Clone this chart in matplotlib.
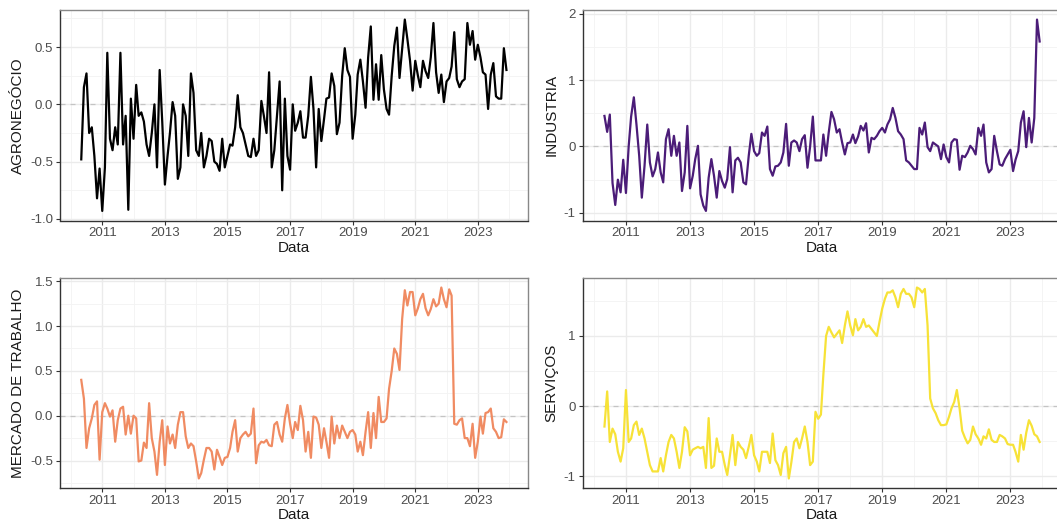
import numpy as np
import pandas as pd
import matplotlib
matplotlib.use("Agg")
from matplotlib import pyplot as plt

plt.rcParams['font.family'] = ['Liberation Sans', 'DejaVu Sans']

# monthly dates, May 2010 .. Dec 2023
datas = pd.date_range('2010-05-01', '2023-12-01', freq='MS')

agro = [
    # 2010 (mai-dez)
    -0.48, 0.15, 0.27, -0.25, -0.2, -0.45, -0.82, -0.56,
    # 2011
    -0.93, -0.55, 0.45, -0.3, -0.4, -0.2, -0.35, 0.45, -0.35, -0.1, -0.92, 0.05,
    # 2012
    -0.3, 0.17, -0.1, -0.07, -0.15, -0.35, -0.45, -0.25, 0.0, -0.55, 0.3, -0.15,
    # 2013
    -0.7, -0.45, -0.25, 0.02, -0.1, -0.65, -0.55, 0.0, -0.1, -0.45, 0.27, 0.1,
    # 2014
    -0.4, -0.45, -0.25, -0.55, -0.45, -0.3, -0.32, -0.5, -0.52, -0.58, -0.3, -0.55,
    # 2015
    -0.45, -0.35, -0.36, -0.2, 0.08, -0.2, -0.25, -0.35, -0.45, -0.46, -0.3, -0.45,
    # 2016
    -0.4, 0.03, -0.1, -0.25, 0.28, -0.55, -0.4, -0.1, 0.2, -0.75, 0.05, -0.45,
    # 2017
    -0.57, 0.0, -0.23, -0.16, -0.06, -0.29, -0.29, -0.1, 0.24, -0.04, -0.55, -0.04,
    # 2018
    -0.32, -0.13, 0.05, 0.06, 0.27, 0.16, -0.26, -0.16, 0.25, 0.49, 0.3, 0.24,
    # 2019
    -0.3, -0.09, 0.26, 0.39, 0.2, -0.03, 0.41, 0.68, 0.04, 0.35, 0.04, 0.43,
    # 2020
    0.13, -0.04, -0.09, 0.25, 0.51, 0.67, 0.23, 0.48, 0.74, 0.57, 0.38, 0.12,
    # 2021
    0.38, 0.25, 0.15, 0.38, 0.29, 0.23, 0.41, 0.71, 0.28, 0.1, 0.26, 0.02,
    # 2022
    0.2, 0.23, 0.33, 0.63, 0.22, 0.15, 0.2, 0.22, 0.71, 0.52, 0.64, 0.39,
    # 2023
    0.52, 0.41, 0.28, 0.26, -0.04, 0.26, 0.36, 0.07, 0.05, 0.05, 0.49, 0.3,
]

industria = [
    0.46, 0.22, 0.48, -0.55, -0.88, -0.5, -0.69, -0.2,
    -0.7, 0.0, 0.45, 0.74, 0.33, -0.14, -0.77, -0.29, 0.33, -0.24, -0.45, -0.34,
    -0.09, -0.39, -0.54, 0.11, 0.26, -0.14, 0.16, -0.14, 0.06, -0.67, -0.39, 0.31,
    -0.63, -0.44, -0.19, 0.01, -0.72, -0.89, -0.97, -0.47, -0.19, -0.44, -0.77, -0.37,
    -0.52, -0.62, -0.49, -0.01, -0.69, -0.21, -0.17, -0.24, -0.54, -0.57, -0.14, 0.19,
    -0.07, -0.14, -0.1, 0.21, 0.16, 0.3, -0.34, -0.44, -0.3, -0.29, -0.24, -0.09,
    0.34, -0.29, 0.06, 0.09, 0.06, -0.07, 0.11, 0.17, -0.32, 0.0, 0.45, -0.21,
    -0.21, -0.21, 0.18, -0.14, 0.21, 0.52, 0.41, 0.21, 0.26, 0.06, -0.12, 0.05,
    0.06, 0.18, 0.05, 0.15, 0.31, 0.24, 0.35, -0.09, 0.13, 0.11, 0.16, 0.23,
    0.28, 0.21, 0.33, 0.41, 0.58, 0.43, 0.23, 0.18, 0.11, -0.21, -0.24, -0.29,
    -0.34, -0.34, 0.28, 0.18, 0.36, -0.01, -0.07, 0.06, 0.03, 0.0, -0.19, 0.03,
    -0.16, -0.24, 0.06, 0.11, 0.1, -0.35, -0.14, -0.16, -0.09, 0.01, -0.04, -0.12,
    0.28, 0.16, 0.33, -0.24, -0.39, -0.34, 0.16, -0.07, -0.27, -0.29, -0.19, -0.12,
    -0.05, -0.37, -0.2, -0.07, 0.36, 0.53, -0.01, 0.43, 0.06, 0.43, 1.91, 1.58,
]

mercado = [
    0.4, 0.19, -0.36, -0.14, -0.03, 0.12, 0.16, -0.49,
    0.04, 0.14, 0.08, -0.01, 0.06, -0.29, -0.05, 0.08, 0.1, -0.21, 0.0, -0.2,
    0.0, -0.03, -0.51, -0.5, -0.3, -0.36, 0.14, -0.25, -0.4, -0.66, -0.29, -0.05,
    -0.55, -0.12, -0.31, -0.21, -0.36, -0.1, 0.04, 0.04, -0.23, -0.36, -0.31, -0.34,
    -0.51, -0.7, -0.64, -0.49, -0.36, -0.36, -0.4, -0.6, -0.38, -0.46, -0.55, -0.47,
    -0.46, -0.36, -0.18, -0.05, -0.4, -0.25, -0.21, -0.18, -0.23, -0.2, 0.08, -0.53,
    -0.33, -0.29, -0.3, -0.27, -0.33, -0.34, -0.1, -0.07, -0.21, -0.29, -0.03, 0.12,
    -0.09, -0.25, -0.07, -0.16, 0.11, -0.05, -0.4, -0.18, -0.47, -0.01, -0.02, -0.1,
    -0.36, -0.14, -0.29, -0.47, -0.01, -0.31, -0.11, -0.25, -0.11, -0.18, -0.25, -0.18,
    -0.16, -0.21, -0.4, -0.29, -0.44, -0.18, 0.04, -0.36, 0.03, -0.25, 0.21, -0.07,
    -0.07, -0.03, 0.3, 0.5, 0.75, 0.69, 0.51, 1.08, 1.4, 1.23, 1.38, 1.38,
    1.12, 1.2, 1.3, 1.36, 1.2, 1.12, 1.19, 1.3, 1.22, 1.25, 1.43, 1.3,
    1.21, 1.41, 1.34, -0.09, -0.1, -0.05, -0.03, -0.25, -0.25, -0.34, -0.09, -0.47,
    -0.29, -0.01, -0.2, 0.03, 0.04, 0.08, -0.14, -0.18, -0.25, -0.24, -0.04, -0.07,
]

servicos = [
    -0.29, 0.21, -0.51, -0.32, -0.4, -0.65, -0.79, -0.6,
    0.23, -0.51, -0.46, -0.27, -0.22, -0.41, -0.32, -0.46, -0.65, -0.84, -0.93, -0.93,
    -0.93, -0.74, -0.93, -0.7, -0.51, -0.41, -0.46, -0.65, -0.88, -0.65, -0.3, -0.36,
    -0.7, -0.62, -0.6, -0.58, -0.6, -0.58, -0.88, -0.17, -0.88, -0.85, -0.46, -0.65,
    -0.65, -0.84, -0.98, -0.7, -0.41, -0.84, -0.51, -0.58, -0.62, -0.74, -0.58, -0.41,
    -0.7, -0.79, -0.93, -0.65, -0.65, -0.65, -0.81, -0.39, -0.77, -0.84, -0.98, -0.67,
    -0.58, -1.03, -0.8, -0.51, -0.46, -0.6, -0.46, -0.29, -0.51, -0.84, -0.79, -0.08,
    -0.18, -0.12, 0.45, 1.0, 1.13, 1.05, 0.98, 1.03, 1.08, 0.9, 1.15, 1.35,
    1.15, 1.01, 1.24, 1.08, 1.13, 1.24, 1.13, 1.15, 1.1, 1.05, 1.0, 1.2,
    1.39, 1.53, 1.62, 1.62, 1.65, 1.55, 1.41, 1.6, 1.67, 1.6, 1.6, 1.55,
    1.41, 1.69, 1.67, 1.62, 1.67, 1.15, 0.11, -0.03, -0.1, -0.2, -0.27, -0.27,
    -0.26, -0.15, -0.03, 0.06, 0.23, -0.03, -0.35, -0.45, -0.53, -0.48, -0.29, -0.4,
    -0.46, -0.55, -0.43, -0.46, -0.33, -0.48, -0.51, -0.51, -0.41, -0.43, -0.46, -0.54,
    -0.55, -0.55, -0.65, -0.79, -0.41, -0.62, -0.38, -0.2, -0.28, -0.4, -0.43, -0.51,
]

series = [
    ('AGRONEGÓCIO', agro, '#000000', [-1.0, -0.5, 0.0, 0.5], ['-1.0', '-0.5', '0.0', '0.5']),
    ('INDUSTRIA', industria, '#4b1c78', [-1, 0, 1, 2], ['-1', '0', '1', '2']),
    ('MERCADO DE TRABALHO', mercado, '#f08b62', [-0.5, 0.0, 0.5, 1.0, 1.5],
     ['-0.5', '0.0', '0.5', '1.0', '1.5']),
    ('SERVIÇOS', servicos, '#f7e237', [-1, 0, 1], ['-1', '0', '1']),
]

anos_major = [2011, 2013, 2015, 2017, 2019, 2021, 2023]
anos_minor = [2010, 2012, 2014, 2016, 2018, 2020, 2022, 2024]

W, H = 1057, 529
fig = plt.figure(figsize=(W / 100, H / 100), dpi=100)

# panel boxes in pixels: left, top, right, bottom
boxes = [
    (60, 10, 527.7, 220.5),
    (582.7, 10, 1061.4, 220.5),
    (60, 278, 527.7, 488),
    (582.7, 278, 1061.4, 488),
]

for (nome, vals, cor, yt, ytl), (l, t, r, b) in zip(series, boxes):
    ax = fig.add_axes([l / W, 1 - b / H, (r - l) / W, (b - t) / H])
    vals = np.array(vals)
    ax.axhline(0, color='#c4c4c4', lw=0.9, ls=(0, (4, 4)), zorder=1)
    ax.plot(datas, vals, color=cor, lw=1.6, zorder=3)

    ax.set_xticks([pd.Timestamp(f'{a}-01-01') for a in anos_major])
    ax.set_xticklabels([str(a) for a in anos_major])
    ax.set_xticks([pd.Timestamp(f'{a}-01-01') for a in anos_minor], minor=True)
    ax.set_yticks(yt)
    ax.set_yticklabels(ytl)
    ystep = yt[1] - yt[0]
    ax.set_yticks([v + ystep / 2 for v in [yt[0] - ystep] + yt], minor=True)

    # ggplot-like 5% expansion (set after ticks so they don't widen it)
    ymin, ymax = vals.min(), vals.max()
    dy = (ymax - ymin) * 0.05
    ax.set_ylim(ymin - dy, ymax + dy)
    x0, x1 = datas[0], datas[-1]
    dx = (x1 - x0) * 0.05
    ax.set_xlim(x0 - dx, x1 + dx)

    ax.grid(True, which='major', color='#ebebeb', lw=1.0, zorder=0)
    ax.grid(True, which='minor', color='#f3f3f3', lw=0.6, zorder=0)
    ax.set_axisbelow(True)

    ax.tick_params(axis='both', which='major', length=3, width=0.8,
                   color='#333333', labelcolor='#4d4d4d', labelsize=9.5, pad=2)
    ax.tick_params(axis='both', which='minor', length=0)

    for s in ['left', 'bottom']:
        ax.spines[s].set_color('#333333')
        ax.spines[s].set_linewidth(1.0)
    for s in ['top', 'right']:
        ax.spines[s].set_color('#888888')
        ax.spines[s].set_linewidth(1.0)

    ax.set_xlabel('Data', fontsize=11, color='#1a1a1a', labelpad=1)
    ax.set_ylabel(nome, fontsize=11, color='#1a1a1a', labelpad=4)

fig.savefig('out.png', dpi=100)
